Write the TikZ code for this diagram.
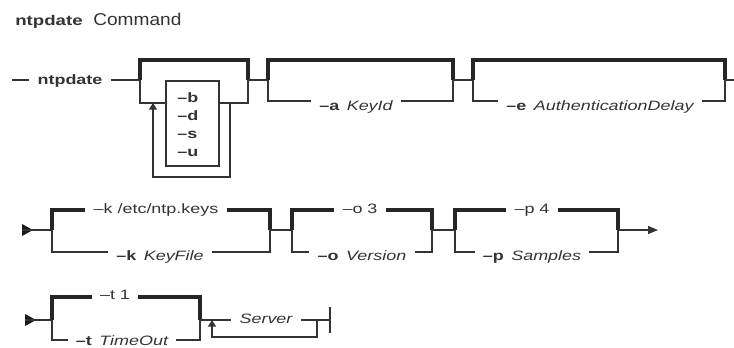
\documentclass[tikz,border=0pt]{standalone}
\usepackage{fontspec}
\setmainfont{Liberation Sans}[FakeStretch=1.32]
\newfontfamily\titlefont{Liberation Sans}[FakeStretch=1.12]
\usetikzlibrary{arrows.meta}
\newcommand\diagfont{\fontsize{10.2}{12}\selectfont}
\begin{document}
\begin{tikzpicture}[x=0.75pt,y=-0.75pt,
  thk/.style={line width=2.4pt,draw=black!85},
  thn/.style={line width=1.05pt,draw=black!80},
  lbl/.style={inner xsep=6pt,inner ysep=0pt,anchor=base,text=black!80,font=\diagfont},
  item/.style={inner sep=0pt,anchor=base west,text=black!80,font=\diagfont\bfseries},
  uptip/.style={-{Triangle[length=5pt,width=6pt]}},
  endtip/.style={-{Triangle[length=7.5pt,width=6pt]}}]
\path[use as bounding box] (0,0) rectangle (734,347);

% title
\node[item,font=\fontsize{10.6}{13}\selectfont\bfseries] (tnt) at (15,25) {ntpdate};
\node[anchor=base west,inner sep=0pt,text=black!80,font=\titlefont\fontsize{12.8}{15}\selectfont] (tcmd) at (93,25) {Command};

% ---------- row 1 ----------
\coordinate (r1s) at (12,80);
\node[lbl] (nd) at (70,84) {\bfseries ntpdate};
\coordinate (b1l) at (140,80);
\coordinate (b1r) at (248,80);
\coordinate (b2l) at (268,80);
\coordinate (b2r) at (453,80);
\coordinate (b3l) at (473,80);
\coordinate (b3r) at (725,80);
\coordinate (r1e) at (734,80);
\draw[thn] (r1s) -- (nd.west |- r1s);
\draw[thn] (nd.east |- r1s) -- (b1l);

% box 1 with repeat loop
\draw[thk] (b1l) -- (140,60) -- (248,60) -- (b1r);
\node[item] (ob) at (177,102) {–b};
\node[item] (od) at (177,120) {–d};
\node[item] (os) at (177,138) {–s};
\node[item] (ou) at (177,156) {–u};
\coordinate (inA) at (166,81);
\coordinate (inB) at (219,166);
\draw[thn] (inA) rectangle (inB);
\draw[thn] (b1l) -- (140,103) -- (inA |- 0,103);
\draw[thn] (inB |- 0,103) -- (248,103) -- (b1r);
\draw[thn,uptip] (230,103) -- (230,177) -- (153,177) -- (153,103);
\draw[thn] (b1r) -- (b2l);

% box 2
\node[lbl] (ka) at (356,110) {{\bfseries –a}\hspace{0.55em}{\itshape KeyId}};
\draw[thk] (b2l) -- (268,60) -- (453,60) -- (b2r);
\draw[thn] (b2l) -- (268,101) -- (ka.west |- 0,101);
\draw[thn] (ka.east |- 0,101) -- (453,101) -- (b2r);
\draw[thn] (b2r) -- (b3l);

% box 3
\node[lbl] (ea) at (600,110) {{\bfseries –e}\hspace{0.55em}{\itshape AuthenticationDelay}};
\draw[thk] (b3l) -- (473,60) -- (725,60) -- (b3r);
\draw[thn] (b3l) -- (473,101) -- (ea.west |- 0,101);
\draw[thn] (ea.east |- 0,101) -- (725,101) -- (b3r);
\draw[thn] (b3r) -- (r1e);

% ---------- row 2 ----------
\coordinate (r2s) at (22,230);
\coordinate (c1l) at (52,230);
\coordinate (c1r) at (270,230);
\coordinate (c2l) at (292,230);
\coordinate (c2r) at (432,230);
\coordinate (c3l) at (455,230);
\coordinate (c3r) at (618,230);
\coordinate (r2e) at (658,230);
\fill[black!90] (22,224) -- (33,230) -- (22,236) -- cycle;
\draw[thn] (r2s) -- (c1l);

\node[lbl] (kd) at (156,213) {–k /etc/ntp.keys};
\node[lbl] (kf) at (160,260) {{\bfseries –k}\hspace{0.55em}{\itshape KeyFile}};
\draw[thk] (c1l) -- (52,210) -- (kd.west |- 0,210);
\draw[thk] (kd.east |- 0,210) -- (270,210) -- (c1r);
\draw[thn] (c1l) -- (52,252) -- (kf.west |- 0,252);
\draw[thn] (kf.east |- 0,252) -- (270,252) -- (c1r);
\draw[thn] (c1r) -- (c2l);

\node[lbl] (od3) at (360,213) {–o 3};
\node[lbl] (ov) at (362,260) {{\bfseries –o}\hspace{0.55em}{\itshape Version}};
\draw[thk] (c2l) -- (292,210) -- (od3.west |- 0,210);
\draw[thk] (od3.east |- 0,210) -- (432,210) -- (c2r);
\draw[thn] (c2l) -- (292,252) -- (ov.west |- 0,252);
\draw[thn] (ov.east |- 0,252) -- (432,252) -- (c2r);
\draw[thn] (c2r) -- (c3l);

\node[lbl] (pd4) at (532,213) {–p 4};
\node[lbl] (ps) at (532,260) {{\bfseries –p}\hspace{0.55em}{\itshape Samples}};
\draw[thk] (c3l) -- (455,210) -- (pd4.west |- 0,210);
\draw[thk] (pd4.east |- 0,210) -- (618,210) -- (c3r);
\draw[thn] (c3l) -- (455,252) -- (ps.west |- 0,252);
\draw[thn] (ps.east |- 0,252) -- (618,252) -- (c3r);
\draw[thn,endtip] (c3r) -- (r2e);

% ---------- row 3 ----------
\coordinate (r3s) at (25,320);
\coordinate (d1l) at (52,320);
\coordinate (d1r) at (200,320);
\coordinate (lpR) at (317,320);
\coordinate (lpL) at (212,320);
\coordinate (endb) at (330,320);
\fill[black!90] (25,314) -- (36,320) -- (25,326) -- cycle;
\draw[thn] (r3s) -- (d1l);

\node[lbl] (td1) at (115,299) {–t 1};
\node[lbl] (tt) at (122,345) {{\bfseries –t}\hspace{0.55em}{\itshape TimeOut}};
\draw[thk] (d1l) -- (52,297) -- (td1.west |- 0,297);
\draw[thk] (td1.east |- 0,297) -- (200,297) -- (d1r);
\draw[thn] (d1l) -- (52,340) -- (tt.west |- 0,340);
\draw[thn] (tt.east |- 0,340) -- (200,340) -- (d1r);

\node[lbl] (srv) at (266,323) {\itshape Server};
\draw[thn] (d1r) -- (srv.west |- d1r);
\draw[thn] (srv.east |- d1r) -- (endb);
\draw[thn] (330,307) -- (330,333);
\draw[thn,uptip] (lpR) -- (317,337) -- (212,337) -- (lpL);
\end{tikzpicture}
\end{document}
